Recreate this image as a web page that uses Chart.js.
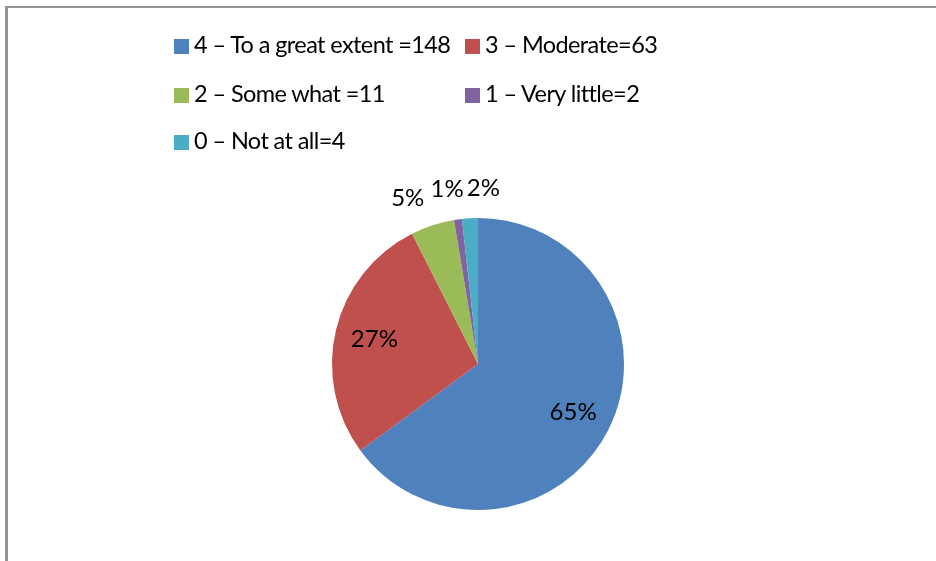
<!DOCTYPE html>
<html>
<head>
<meta charset="utf-8">
<script src="https://cdn.jsdelivr.net/npm/chart.js@4.4.1/dist/chart.umd.min.js"></script>
<style>
    html, body { margin: 0; padding: 0; background: #fff; overflow: hidden; }
    #wrap { position: relative; width: 936px; height: 561px; overflow: hidden; }
    #pie-chart { position: absolute; left: 0; top: 0; }
    .legend-item {
        position: absolute; font-family: Lato, "Open Sans", sans-serif; font-size: 23.5px;
        letter-spacing: -0.6px; color: #000; white-space: nowrap; line-height: 16px;
    }
    .legend-item .box { display: inline-block; width: 15px; height: 15px; vertical-align: top; }
    .legend-item .txt { position: absolute; top: -3px; white-space: nowrap; }
</style>
</head>
<body>
<div id="wrap">
    <canvas id="pie-chart" width="936" height="561"></canvas>
    <div id="legend"></div>
</div>
<script>
const categories = ['4 – To a great extent =148', '3 – Moderate=63', '2 – Some what =11', '1 – Very little=2', ' 0 – Not at all=4'];
const counts = [148, 63, 11, 2, 4];
const percentLabels = ['65%', '27%', '5%', '1%', '2%'];
const colors = ['#4F81BD', '#C0504D', '#9BBB59', '#8064A2', '#4BACC6'];

document.addEventListener('DOMContentLoaded', () => {
    // legend laid out like the office chart: two columns, three rows
    const legendSpots = [[174, 39], [465, 39], [174, 88], [465, 88], [174, 135]];
    const legend = document.getElementById('legend');
    categories.forEach((name, i) => {
        const item = document.createElement('div');
        item.className = 'legend-item';
        item.style.left = legendSpots[i][0] + 'px';
        item.style.top = legendSpots[i][1] + 'px';
        item.innerHTML = '<span class="box" style="background:' + colors[i] + '"></span>' +
            '<span class="txt" style="left:20px"></span>';
        item.querySelector('.txt').textContent = name;
        legend.appendChild(item);
    });

    // the grey chart-area frame, only its top and left edges are in view
    const frame = {
        id: 'frame',
        beforeDraw(chart) {
            const ctx = chart.ctx;
            ctx.save();
            ctx.fillStyle = '#939393';
            ctx.fillRect(5, 6, chart.width, 2);
            ctx.fillRect(5, 6, 3, chart.height);
            ctx.restore();
        }
    };

    // slice labels: big slices inside, small ones outside on top
    const sliceLabels = {
        id: 'sliceLabels',
        afterDatasetsDraw(chart) {
            const ctx = chart.ctx;
            const meta = chart.getDatasetMeta(0);
            const nudge = [[0, 0], [0, 0], [-16, 0], [-7, -2], [15, -2]];
            ctx.save();
            ctx.font = '24px Lato, "Open Sans", sans-serif';
            ctx.fillStyle = '#000';
            ctx.textAlign = 'center';
            ctx.textBaseline = 'middle';
            meta.data.forEach((arc, i) => {
                const mid = (arc.startAngle + arc.endAngle) / 2;
                const share = counts[i] / counts.reduce((a, b) => a + b, 0);
                const dist = share > 0.1 ? arc.outerRadius * 0.73 : arc.outerRadius + 28;
                const x = arc.x + Math.cos(mid) * dist + nudge[i][0];
                const y = arc.y + Math.sin(mid) * dist + nudge[i][1];
                ctx.fillText(percentLabels[i], x, y);
            });
            ctx.restore();
        }
    };

    const ctx = document.getElementById('pie-chart').getContext('2d');
    new Chart(ctx, {
        type: 'pie',
        data: {
            labels: categories,
            datasets: [{
                data: counts,
                backgroundColor: colors,
                borderWidth: 0,
            }]
        },
        options: {
            responsive: false,
            animation: false,
            layout: { padding: { top: 218, bottom: 51, left: 332, right: 312 } },
            plugins: {
                legend: { display: false },
                tooltip: { enabled: false },
            }
        },
        plugins: [frame, sliceLabels]
    });
});
</script>
</body>
</html>
